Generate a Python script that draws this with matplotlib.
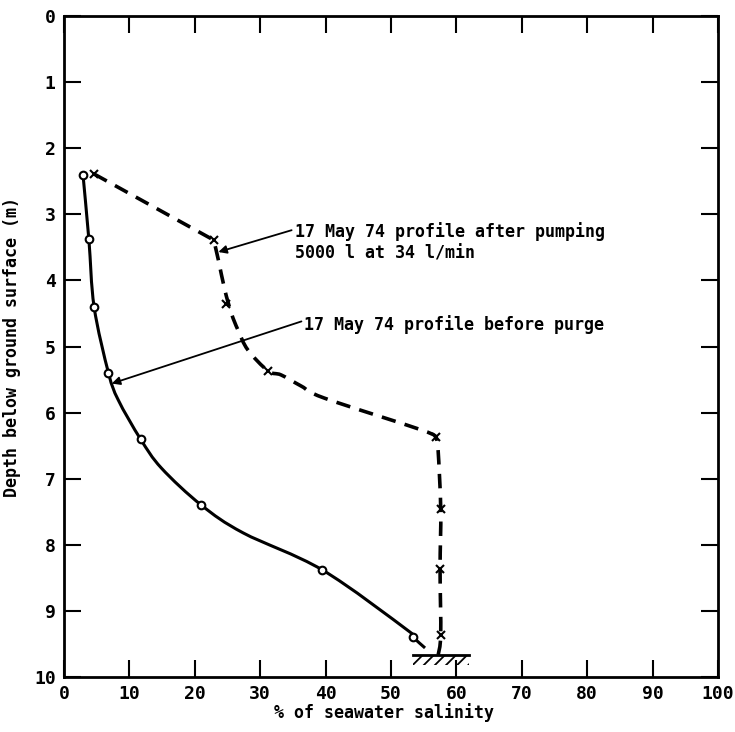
import matplotlib
matplotlib.use('Agg')
import matplotlib.pyplot as plt
import numpy as np
from matplotlib.path import Path
from matplotlib.patches import PathPatch

plt.rcParams['font.family'] = ['DejaVu Sans Mono']
plt.rcParams['font.weight'] = 'bold'
plt.rcParams['axes.labelweight'] = 'bold'
plt.rcParams['hatch.linewidth'] = 1.3

# measured points - before purge (circles)
before_sal = [2.9, 3.8, 4.6, 6.8, 11.7, 21.0, 39.5, 53.3]
before_depth = [2.4, 3.38, 4.4, 5.4, 6.4, 7.4, 8.38, 9.39]
# hand-drawn curve through them
before_curve_sal = [2.9, 3.8, 4.6, 6.8, 8.3, 11.7, 14.9, 21.0, 27.4, 39.5, 52.5, 53.3, 55.2]
before_curve_depth = [2.4, 3.38, 4.4, 5.4, 5.81, 6.4, 6.84, 7.4, 7.82, 8.38, 9.29, 9.39, 9.56]

# measured points - after pumping (crosses)
after_sal = [4.6, 22.9, 24.8, 31.2, 56.9, 57.6, 57.5, 57.6]
after_depth = [2.39, 3.39, 4.35, 5.37, 6.37, 7.46, 8.37, 9.36]
after_curve_sal = [4.6, 22.9, 23.6, 24.6, 25.6, 26.6, 28.1, 31.2, 33.2, 36.3, 39.8, 54.6, 56.9,
                   57.2, 57.6, 57.5, 57.6, 57.2]
after_curve_depth = [2.39, 3.39, 3.69, 4.15, 4.5, 4.75, 5.05, 5.37, 5.43, 5.6, 5.78, 6.26, 6.37,
                     6.57, 7.46, 8.37, 9.36, 9.67]

# bottom of well
bottom_sal = [53.3, 61.9]
bottom_depth = 9.67


def smooth_path(xs, ys, corners=()):
    # catmull-rom through the traced points, as cubic bezier segments
    p = np.column_stack([xs, ys]).astype(float)
    verts = [p[0]]
    codes = [Path.MOVETO]
    n = len(p)
    for i in range(n - 1):
        p0 = p[i - 1] if i > 0 and i not in corners else p[i]
        p3 = p[i + 2] if i + 2 < n and (i + 1) not in corners else p[i + 1]
        c1 = p[i] + (p[i + 1] - p0) / 6
        c2 = p[i + 1] - (p3 - p[i]) / 6
        verts += [c1, c2, p[i + 1]]
        codes += [Path.CURVE4] * 3
    return Path(verts, codes)


fig = plt.figure(figsize=(7.35, 7.32), dpi=100)
ax = fig.add_axes([0.0871, 0.0751, 0.8898, 0.903])

ax.add_patch(PathPatch(smooth_path(before_curve_sal, before_curve_depth),
                       fill=False, color='black', lw=2.2))
ax.plot(before_sal, before_depth, 'o', ms=5.5, mfc='white', mec='black', mew=1.5)

ax.add_patch(PathPatch(smooth_path(after_curve_sal, after_curve_depth, corners=(1, 12)),
                       fill=False, color='black', lw=2.6, ls=(0, (4, 2.6))))
ax.plot(after_sal, after_depth, 'x', ms=6, color='black', mew=1.5)

ax.plot(bottom_sal, [bottom_depth, bottom_depth], color='black', lw=2)
ax.fill_between(bottom_sal, bottom_depth, bottom_depth + 0.15, facecolor='none',
                edgecolor='black', hatch='///', lw=0)

ax.text(35.3, 3.42, '17 May 74 profile after pumping\n5000 l at 34 l/min',
        fontsize=12, ha='left', va='center', linespacing=1.25)
ax.annotate('', xy=(23.6, 3.57), xytext=(34.8, 3.24),
            arrowprops=dict(arrowstyle='-|>', color='black', lw=1.3,
                            mutation_scale=12, shrinkA=0, shrinkB=0))
ax.text(36.7, 4.67, '17 May 74 profile before purge', fontsize=12, ha='left', va='center')
ax.annotate('', xy=(7.3, 5.56), xytext=(36.3, 4.62),
            arrowprops=dict(arrowstyle='-|>', color='black', lw=1.3,
                            mutation_scale=12, shrinkA=0, shrinkB=0))

ax.set_xlim(0, 100)
ax.set_ylim(10, 0)
ax.set_xticks(range(0, 101, 10))
ax.set_yticks(range(0, 11))
ax.tick_params(direction='in', length=12, width=1.5, top=True, right=True,
               labelsize=13, pad=6)
for s in ax.spines.values():
    s.set_linewidth(2)

ax.set_xlabel('% of seawater salinity', fontsize=12)
ax.xaxis.set_label_coords(0.49, -0.04)
ax.set_ylabel('Depth below ground surface (m)', fontsize=12)
ax.yaxis.set_label_coords(-0.066, 0.5)

fig.savefig('out.png', dpi=100)
